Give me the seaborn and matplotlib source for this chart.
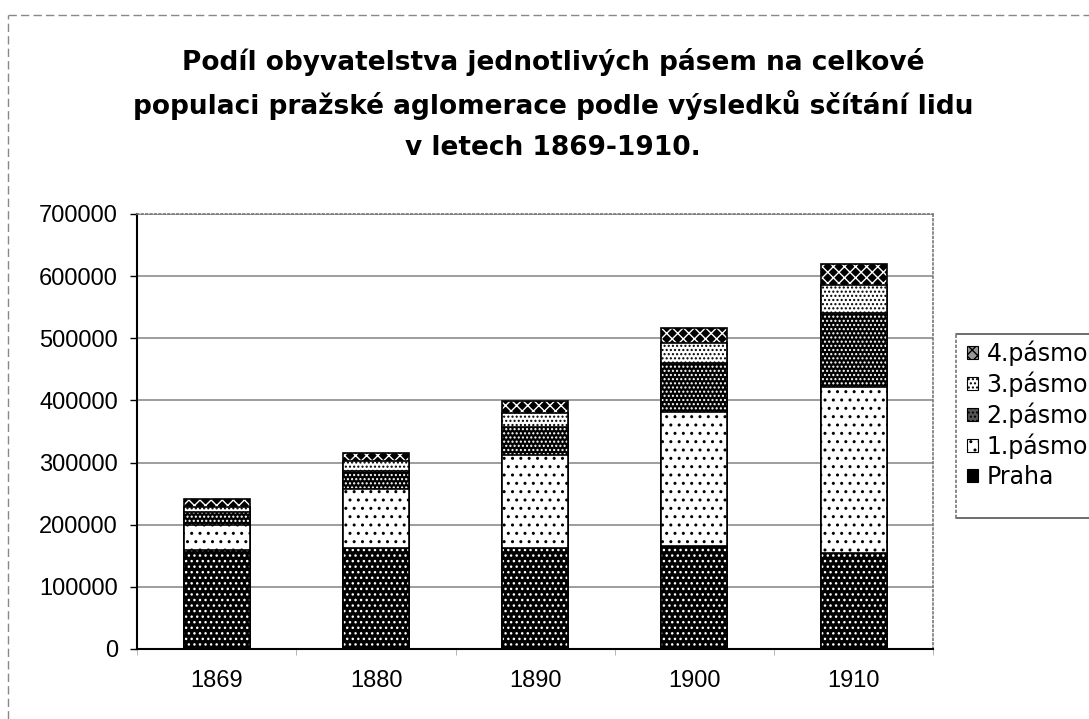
import numpy as np
import matplotlib
matplotlib.use('Agg')
import matplotlib.pyplot as plt
from matplotlib.patches import Patch
from matplotlib.lines import Line2D
import seaborn as sns

# Data (population per zone)
years = ['1869', '1880', '1890', '1900', '1910']
praha = [160000, 163000, 162000, 165000, 154000]
pasmo1 = [40000, 94000, 150000, 217000, 267000]
pasmo2 = [20000, 29000, 45000, 78000, 119000]
pasmo3 = [9000, 17000, 23000, 33000, 45000]
pasmo4 = [13000, 13000, 19000, 23000, 34000]

series_names = ['Praha', '1.pásmo', '2.pásmo', '3.pásmo', '4.pásmo']
series_vals = [praha, pasmo1, pasmo2, pasmo3, pasmo4]
# (face colour, hatch colour, hatch)
styles = [('black', 'white', '...'),
          ('white', 'black', '..'),
          ('black', 'white', '....'),
          ('white', 'black', '....'),
          ('black', 'white', 'xxx')]
# legend swatches are tiny, so use grey faces to keep the patterns visible
legend_faces = ['black', 'white', '#555555', 'white', '#999999']

sns.set_style('white')
plt.rcParams['font.family'] = ['Liberation Sans', 'DejaVu Sans']
plt.rcParams['text.color'] = 'black'
plt.rcParams['xtick.color'] = 'black'
plt.rcParams['ytick.color'] = 'black'
plt.rcParams['hatch.linewidth'] = 1.0

fig = plt.figure(figsize=(10.89, 7.19), dpi=100)
ax = fig.add_axes([0.126, 0.0974, 0.731, 0.605])

cum = np.cumsum(np.array(series_vals), axis=0)

# draw from the tallest (top) layer down so lower layers cover the rest
for i in range(len(series_names) - 1, -1, -1):
    face, hcol, hatch = styles[i]
    sns.barplot(x=years, y=cum[i], color=face, saturation=1, width=0.415,
                errorbar=None, edgecolor=hcol, linewidth=0, hatch=hatch, ax=ax)
    sns.barplot(x=years, y=cum[i], color='black', fill=False, width=0.415,
                errorbar=None, linewidth=1.2, ax=ax)

ax.set_ylim(0, 700000)
ax.set_xlim(-0.5, 4.5)
ax.set_yticks(range(0, 700001, 100000))
ax.set_yticklabels([str(v) for v in range(0, 700001, 100000)])
ax.yaxis.grid(True, color='#8c8c8c', linewidth=1.2)
ax.set_axisbelow(True)
ax.set_xlabel('')
ax.set_ylabel('')

ax.tick_params(axis='y', labelsize=17, length=5, width=1, pad=9, left=True, color='black')
ax.tick_params(axis='x', labelsize=17, length=0, pad=15)
ax.set_xticks(np.arange(-0.5, 5, 1), minor=True)
ax.tick_params(axis='x', which='minor', length=4, color='#aaaaaa', bottom=True)

for side in ['left', 'bottom']:
    ax.spines[side].set_color('black')
    ax.spines[side].set_linewidth(1.5)
for side in ['top', 'right']:
    ax.spines[side].set_color('#777777')
    ax.spines[side].set_linestyle(':')
    ax.spines[side].set_linewidth(1.2)

# legend (reversed order, like the original); frame runs off the right edge
handles = [Patch(facecolor=legend_faces[i], edgecolor='black', hatch=styles[i][2], linewidth=0.8)
           for i in range(len(series_names))]
leg = fig.legend(handles[::-1], series_names[::-1], loc='upper left',
                 bbox_to_anchor=(0.888, 0.527), frameon=False,
                 prop={'family': 'DejaVu Sans', 'size': 17},
                 handlelength=0.45, handleheight=0.45, handletextpad=0.38,
                 labelspacing=0.24, borderpad=0, borderaxespad=0)
fig.add_artist(Line2D([0.878, 1.0], [0.5355, 0.5355], color='#555555', lw=1.2))
fig.add_artist(Line2D([0.878, 1.0], [0.2796, 0.2796], color='#555555', lw=1.2))
fig.add_artist(Line2D([0.878, 0.878], [0.2796, 0.5355], color='#777777', lw=1.2, ls=(0, (2, 1))))

title_lines = ['Podíl obyvatelstva jednotlivých pásem na celkové',
               'populaci pražské aglomerace podle výsledků sčítání lidu',
               'v letech 1869-1910.']
for line, yy in zip(title_lines, [0.9138, 0.854, 0.794]):
    fig.text(0.508, yy, line, ha='center', va='center', family='DejaVu Sans',
             fontsize=19, fontweight='bold')

# faint outer chart frame
fig.add_artist(Line2D([0.007, 1.0], [0.979, 0.979], color='#888888', lw=1, ls=(0, (6, 3))))
fig.add_artist(Line2D([0.007, 0.007], [0.0, 0.979], color='#888888', lw=1, ls=(0, (6, 3))))

fig.savefig('out.png', dpi=100)
